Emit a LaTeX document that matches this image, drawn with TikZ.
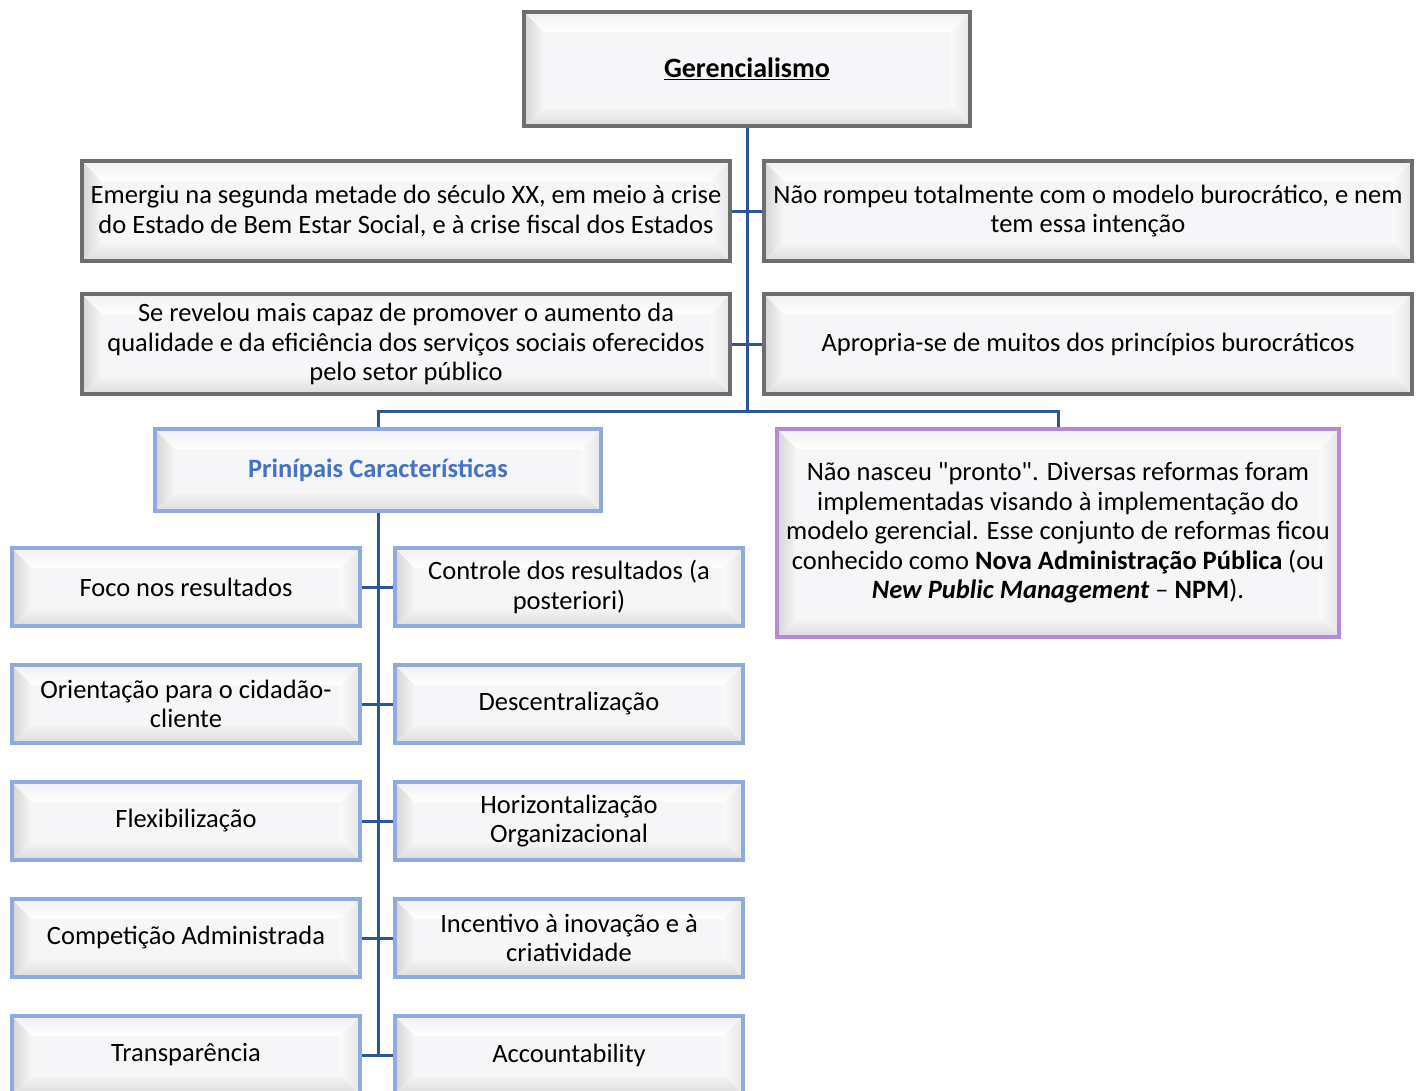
\documentclass[tikz,border=0pt]{standalone}
\usepackage{fontspec}
\setmainfont{Carlito}[Ligatures=TeXOff]
\usetikzlibrary{calc}
\definecolor{linkc}{RGB}{47,85,151}
\definecolor{grayb}{RGB}{110,110,110}
\definecolor{blueb}{RGB}{143,170,220}
\definecolor{purpb}{RGB}{180,140,210}
\definecolor{titleblue}{RGB}{68,114,196}
\definecolor{boxfill}{RGB}{246,246,248}
\tikzset{
  bevel/.style={path picture={
    \path (path picture bounding box.south west) coordinate (pSW)
          (path picture bounding box.north west) coordinate (pNW)
          (path picture bounding box.north east) coordinate (pNE)
          (path picture bounding box.south east) coordinate (pSE);
    \shade[left color=gray!34, right color=gray!6]
      (pSW) -- (pNW) -- ([xshift=20pt,yshift=-20pt]pNW) -- ([xshift=20pt,yshift=20pt]pSW) -- cycle;
    \shade[top color=gray!6, bottom color=gray!28]
      (pSW) -- ([xshift=20pt,yshift=20pt]pSW) -- ([xshift=-20pt,yshift=20pt]pSE) -- (pSE) -- cycle;
    \shade[left color=gray!4, right color=gray!20]
      (pSE) -- (pNE) -- ([xshift=-20pt,yshift=-20pt]pNE) -- ([xshift=-20pt,yshift=20pt]pSE) -- cycle;
    \shade[top color=gray!12, bottom color=white]
      (pNW) -- (pNE) -- ([xshift=-20pt,yshift=-20pt]pNE) -- ([xshift=20pt,yshift=-20pt]pNW) -- cycle;
  }},
  box/.style={bevel, fill=boxfill, line width=4pt, align=center,
    font=\fontsize{26.5}{29.5}\selectfont, inner sep=2pt},
  graybox/.style={box, draw=grayb},
  bluebox/.style={box, draw=blueb},
  purpbox/.style={box, draw=purpb},
  link/.style={draw=linkc, line width=3pt},
}
\begin{document}
\begin{tikzpicture}[x=1pt,y=-1pt]
\path[use as bounding box, clip] (0,0) rectangle (1424,1090);
\fill[white] (0,0) rectangle (1424,1090);

\node[graybox, minimum width=446pt, minimum height=114pt, font=\fontsize{28}{30}\selectfont] (ger) at (747,69)
  {\underline{\textbf{Gerencialismo}}};

\node[graybox, minimum width=648pt, minimum height=100pt] (l1) at (406,211)
  {Emergiu na segunda metade do século XX, em meio à crise\\do Estado de Bem Estar Social, e à crise fiscal dos Estados};
\node[graybox, minimum width=648pt, minimum height=100pt] (r1) at (1088,211)
  {Não rompeu totalmente com o modelo burocrático, e nem\\tem essa intenção};
\node[graybox, minimum width=648pt, minimum height=100pt] (l2) at (406,344)
  {Se revelou mais capaz de promover o aumento da\\qualidade e da eficiência dos serviços sociais oferecidos\\pelo setor público};
\node[graybox, minimum width=648pt, minimum height=100pt] (r2) at (1088,344)
  {Apropria-se de muitos dos princípios burocráticos};

\node[bluebox, minimum width=446pt, minimum height=82pt, text=titleblue] (pc) at (378,470)
  {\textbf{Prinípais Características}};

\node[purpbox, minimum width=562pt, minimum height=208pt] (np) at (1058,533)
  {Não nasceu "pronto". Diversas reformas foram\\implementadas visando à implementação do\\modelo gerencial. Esse conjunto de reformas ficou\\conhecido como \textbf{Nova Administração Pública} (ou\\\textbf{\textit{New Public Management}} – \textbf{NPM}).};

\tikzset{cbox/.style={bluebox, minimum width=348pt, minimum height=78pt}}
\node[cbox] (a1) at (186,587) {Foco nos resultados};
\node[cbox] (b1) at (569,587) {Controle dos resultados (a\\posteriori)};
\node[cbox] (a2) at (186,704) {Orientação para o cidadão-\\cliente};
\node[cbox] (b2) at (569,704) {Descentralização};
\node[cbox] (a3) at (186,821) {Flexibilização};
\node[cbox] (b3) at (569,821) {Horizontalização\\Organizacional};
\node[cbox] (a4) at (186,938) {Competição Administrada};
\node[cbox] (b4) at (569,938) {Incentivo à inovação e à\\criatividade};
\node[cbox] (a5) at (186,1055) {Transparência};
\node[cbox] (b5) at (569,1055) {Accountability};

\coordinate (j) at (747,411);
\draw[link] (ger.south) -- (j);
\draw[link] (l1.east) -- (r1.west);
\draw[link] (l2.east) -- (r2.west);
\draw[link] (j) -| (pc.north);
\draw[link] (j) -| (np.north);
\draw[link] (pc.south) -- (pc.south |- a5.east);
\foreach \i in {1,...,5} {\draw[link] (a\i.east) -- (b\i.west);}
\end{tikzpicture}
\end{document}
